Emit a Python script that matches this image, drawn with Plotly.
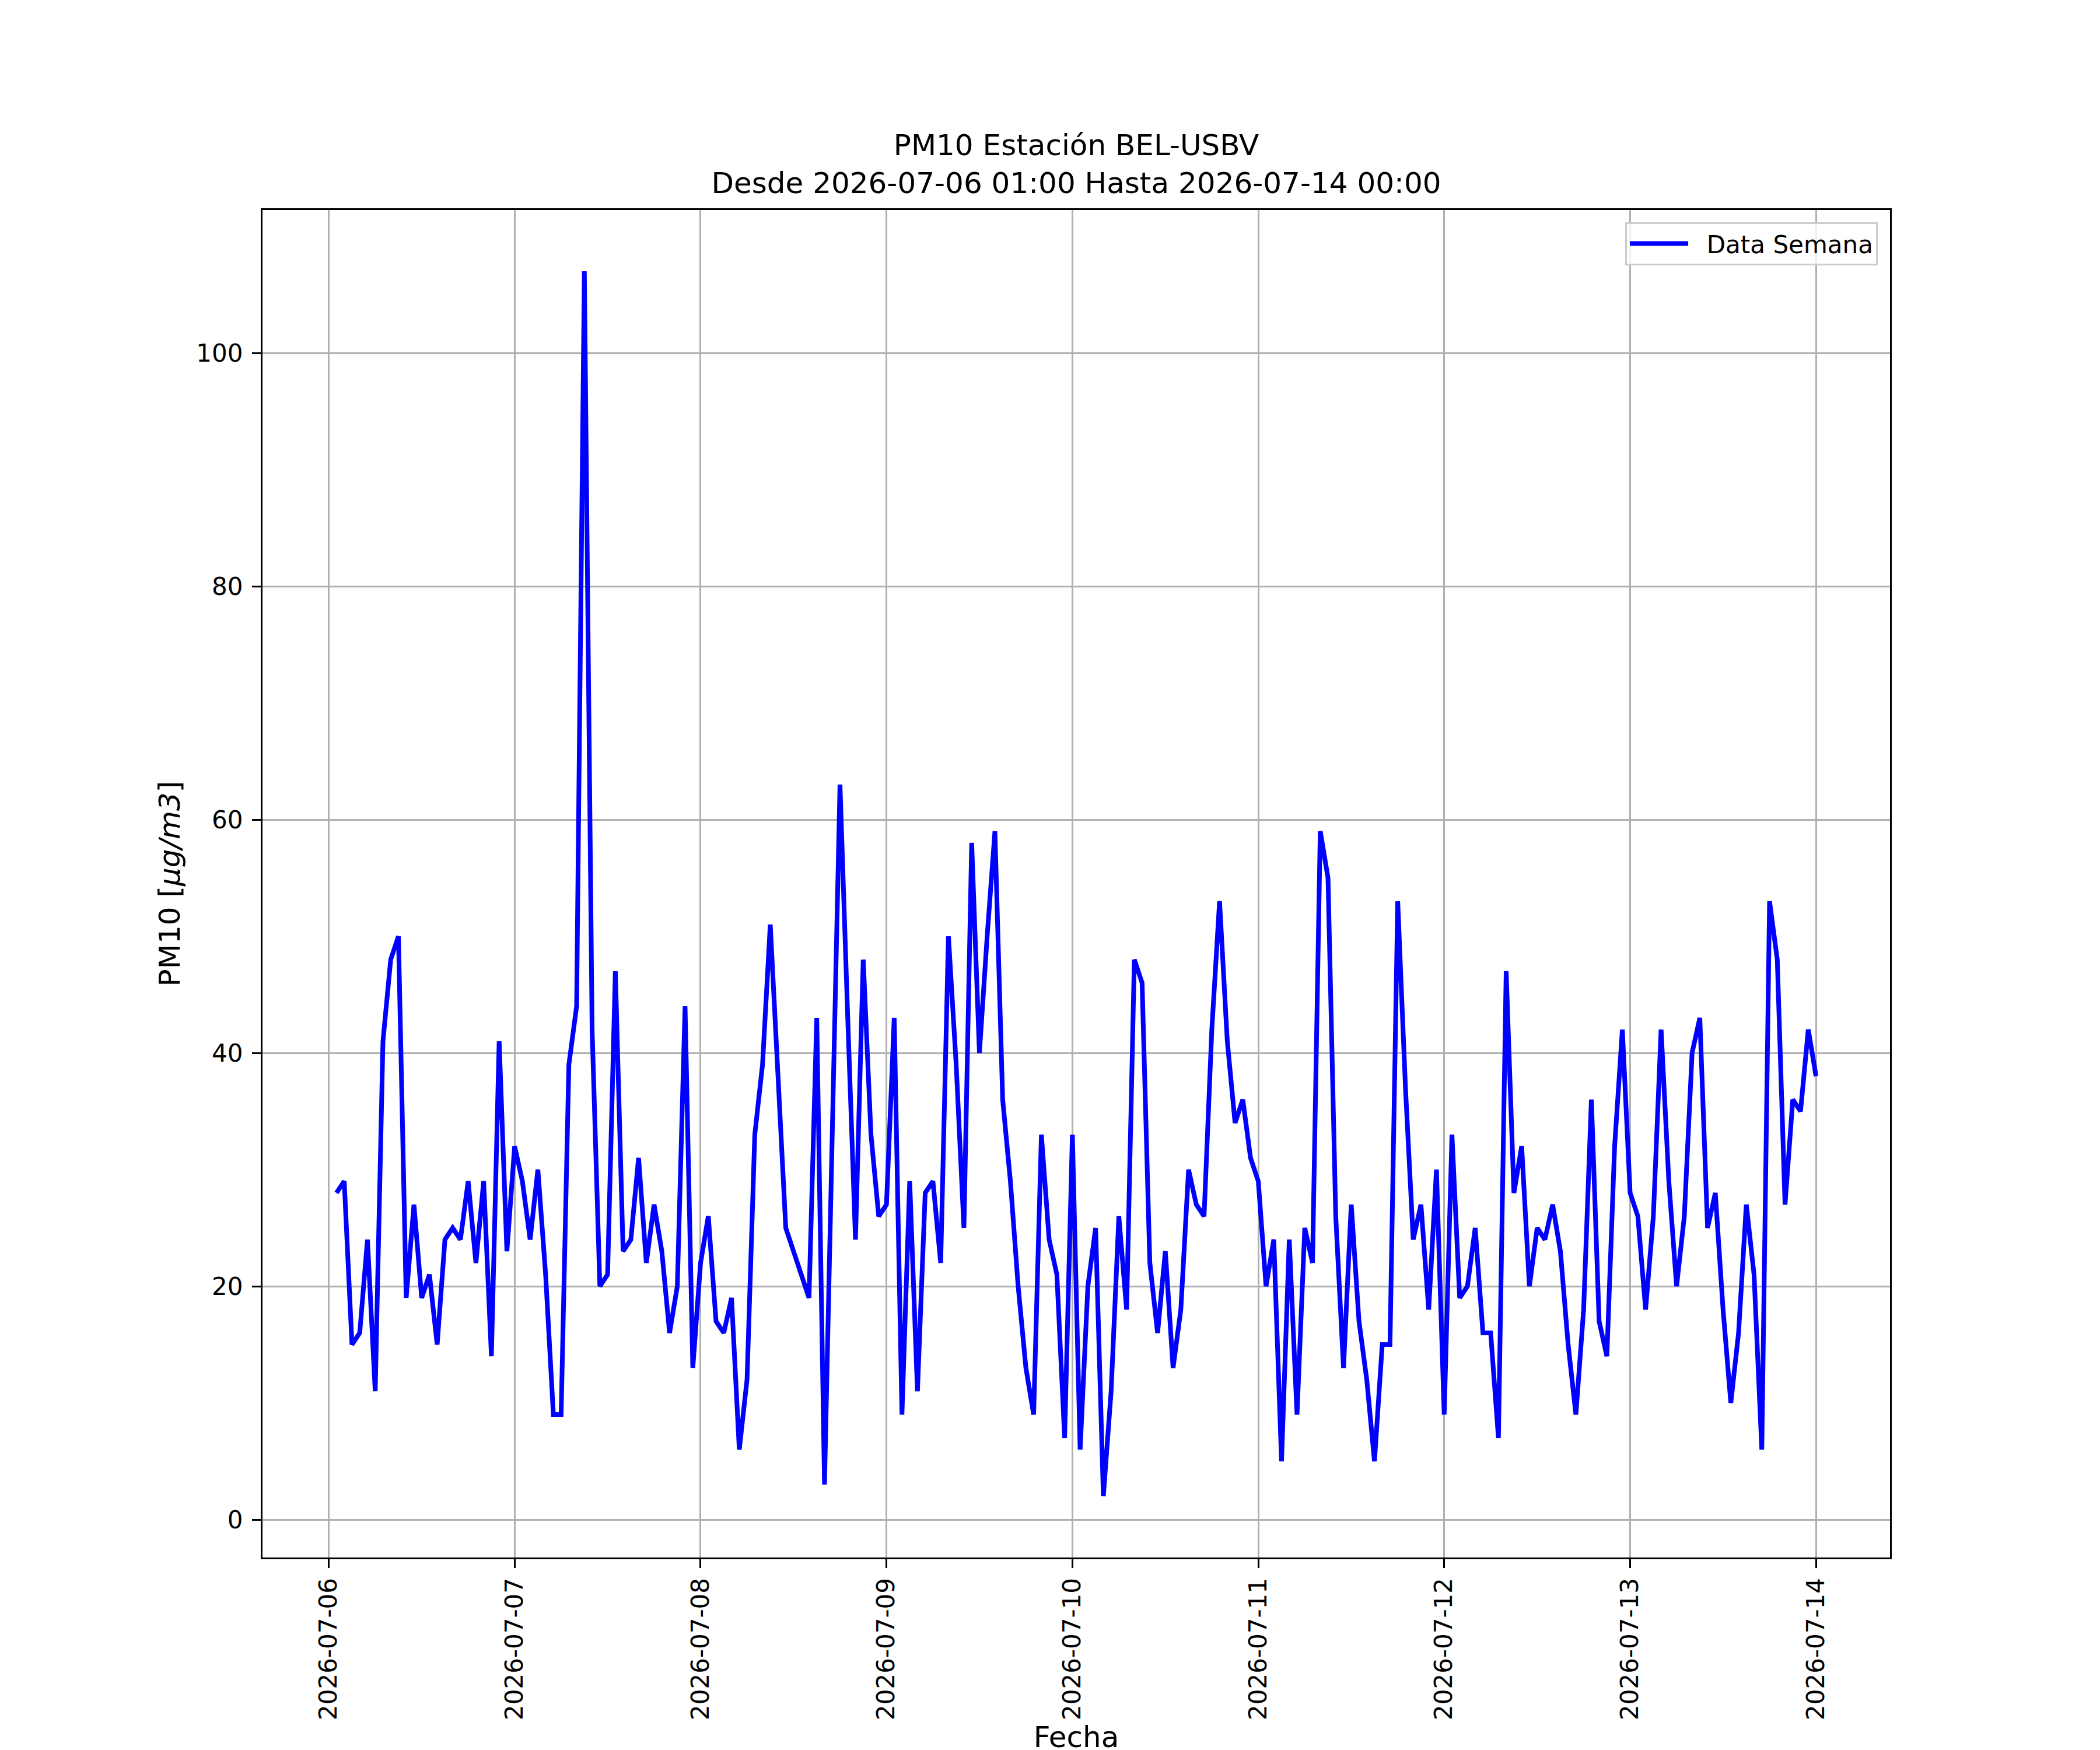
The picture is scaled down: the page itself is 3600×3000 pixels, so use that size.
import plotly.graph_objects as go
import pandas as pd

# hourly PM10 readings, one list per day (first day starts at 01:00)
dia_06 = [28, 29, 15, 16, 24, 11, 41, 48, 50, 19, 27, 19, 21, 15, 24, 25, 24, 29, 22, 29, 14, 41, 23]
dia_07 = [32, 29, 24, 30, 21, 9, 9, 39, 44, 107, 42, 20, 21, 47, 23, 24, 31, 22, 27, 23, 16, 20, 44, 13]
dia_08 = [22, 26, 17, 16, 19, 6, 12, 33, 39, 51, 38, 25, 23, 21, 19, 43, 3, 33, 63, 43, 24, 48, 33, 26]
dia_09 = [27, 43, 9, 29, 11, 28, 29, 22, 50, 39, 25, 58, 40, 50, 59, 36, 29, 20, 13, 9, 33, 24, 21, 7]
dia_10 = [33, 6, 20, 25, 2, 11, 26, 18, 48, 46, 22, 16, 23, 13, 18, 30, 27, 26, 42, 53, 41, 34, 36, 31]
dia_11 = [29, 20, 24, 5, 24, 9, 25, 22, 59, 55, 26, 13, 27, 17, 12, 5, 15, 15, 53, 37, 24, 27, 18, 30]
dia_12 = [9, 33, 19, 20, 25, 16, 16, 7, 47, 28, 32, 20, 25, 24, 27, 23, 15, 9, 18, 36, 17, 14, 32, 42]
dia_13 = [28, 26, 18, 26, 42, 29, 20, 26, 40, 43, 25, 28, 18, 10, 16, 27, 21, 6, 53, 48, 27, 36, 35, 42]
dia_14 = [38]

inicio = "2026-07-06 01:00"
fin = "2026-07-14 00:00"

pm10 = dia_06 + dia_07 + dia_08 + dia_09 + dia_10 + dia_11 + dia_12 + dia_13 + dia_14
fechas = pd.date_range(inicio, periods=len(pm10), freq="h")

# matplotlib-like 5% margins on both axes
span = fechas[-1] - fechas[0]
x_rango = [fechas[0] - span * 0.05, fechas[-1] + span * 0.05]
y_span = max(pm10) - min(pm10)
y_rango = [min(pm10) - y_span * 0.05, max(pm10) + y_span * 0.05]

font = "DejaVu Sans"
grid = "#b0b0b0"

fig = go.Figure()
fig.add_trace(go.Scatter(x=fechas, y=pm10, mode="lines",
                         name="\u00a0\u00a0Data Semana",
                         line=dict(color="#0000ff", width=8)))

# page body adds ~8px offset, so margins are shifted by that
fig.update_layout(
    width=3600, height=3000,
    paper_bgcolor="white", plot_bgcolor="white",
    margin=dict(l=442, r=368, t=352, b=338, autoexpand=False),
    font=dict(family=font, size=42, color="black"),
    title=dict(text=f"PM10 Estación BEL-USBV<br>Desde {inicio} Hasta {fin}",
               font=dict(size=50), x=1837 / 3600, xanchor="center",
               y=1 - 258 / 3000, yanchor="bottom", yref="container"),
    showlegend=True,
    legend=dict(x=0.9925, y=0.991, xanchor="right", yanchor="top",
                bgcolor="rgba(255,255,255,0.8)", bordercolor="#cccccc", borderwidth=3,
                itemwidth=100, font=dict(size=42)),
)

# automargin is needed for title standoff to apply (margins stay fixed)
fig.update_xaxes(
    type="date", range=x_rango, automargin=True,
    tick0="2026-07-06", dtick=86400000, tickformat="%Y-%m-%d", tickangle=-90,
    ticks="outside", ticklen=15, tickwidth=3.3, tickcolor="black",
    ticklabelstandoff=0,
    showgrid=True, gridcolor=grid, gridwidth=3.3,
    showline=True, mirror=True, linecolor="black", linewidth=3.3,
    title=dict(text="Fecha", font=dict(size=50), standoff=0),
    zeroline=False,
)
fig.update_yaxes(
    range=y_rango, tick0=0, dtick=20, automargin=True,
    ticks="outside", ticklen=15, tickwidth=3.3, tickcolor="black",
    ticklabelstandoff=7,
    showgrid=True, gridcolor=grid, gridwidth=3.3,
    showline=True, mirror=True, linecolor="black", linewidth=3.3,
    title=dict(text="PM10 [<i>μg/m3</i>]", font=dict(size=50), standoff=12),
    zeroline=False,
)

fig.write_html("out.html")
